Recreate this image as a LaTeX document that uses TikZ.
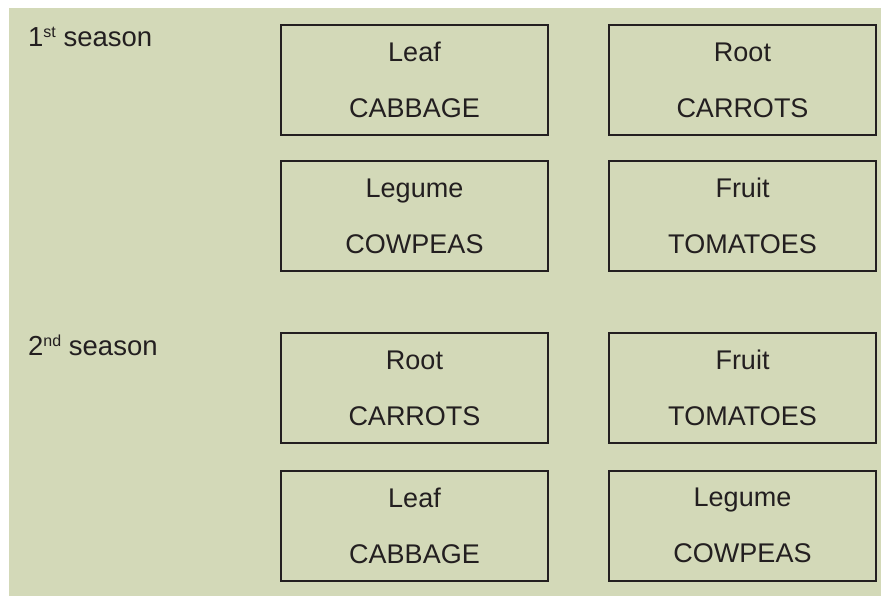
\documentclass[tikz,border=0pt]{standalone}
\usepackage{fontspec}
\setmainfont{Liberation Sans}
\usepackage{xcolor}
\usepackage{tikz}
\usetikzlibrary{positioning}

\definecolor{fieldgreen}{HTML}{D3D9B8}
\definecolor{inkdark}{HTML}{231F20}

\newcommand{\seasonsup}[1]{\raisebox{9pt}{\fontsize{16}{16}\selectfont #1}}

\tikzset{
  cropbox/.style={draw=inkdark, line width=2pt, text=inkdark, minimum width=267pt,
    minimum height=110pt, inner sep=0pt, align=center,
    font=\fontsize{27}{56}\selectfont},
  seasonlabel/.style={anchor=base west, inner sep=0pt, text=inkdark,
    font=\fontsize{27.5}{30}\selectfont}
}

\begin{document}
\begin{tikzpicture}[x=1pt,y=-1pt]
        % Background
        \useasboundingbox (0,0) rectangle (881,596);
        \fill[fieldgreen] (9,8) rectangle (881,596);

        % Season labels
        \node[seasonlabel] (first) at (28,47) {1\seasonsup{st} season};
        \node[seasonlabel] (second) at (28,355) {2\seasonsup{nd} season};

        % Crop boxes
        \foreach \n/\x/\y/\kind/\crop in {
            leafA/414.5/80/Leaf/CABBAGE, rootA/742.5/80/Root/CARROTS,
            legumeA/414.5/216/Legume/COWPEAS, fruitA/742.5/216/Fruit/TOMATOES,
            rootB/414.5/388/Root/CARROTS, fruitB/742.5/388/Fruit/TOMATOES,
            leafB/414.5/525.5/Leaf/CABBAGE, legumeB/742.5/525.5/Legume/COWPEAS} {
            \node[cropbox] (\n) at (\x,\y) {\kind\\\crop};
        }
    \end{tikzpicture}
\end{document}
